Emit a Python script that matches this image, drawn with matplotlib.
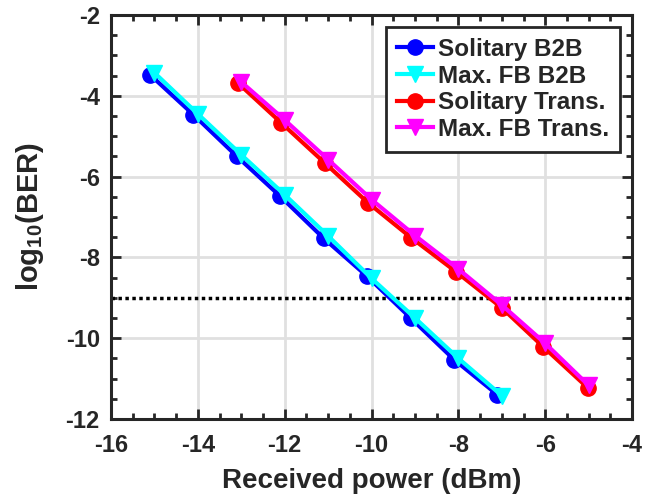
import matplotlib
matplotlib.use('Agg')
import matplotlib.pyplot as plt
from matplotlib.ticker import MultipleLocator

plt.rcParams['font.family'] = ['Liberation Sans', 'DejaVu Sans']
plt.rcParams['font.weight'] = 'bold'
plt.rcParams['axes.unicode_minus'] = False
plt.rcParams['mathtext.fontset'] = 'custom'
plt.rcParams['mathtext.rm'] = 'Liberation Sans:bold'
plt.rcParams['mathtext.bf'] = 'Liberation Sans:bold'
plt.rcParams['mathtext.default'] = 'bf'
plt.rcParams['text.color'] = '#262626'
plt.rcParams['axes.labelcolor'] = '#262626'
plt.rcParams['xtick.color'] = '#262626'
plt.rcParams['ytick.color'] = '#262626'

# ----------------- DATA -----------------
x_b2b_sol = [-15.1, -14.1, -13.1, -12.1, -11.1, -10.1, -9.1, -8.1, -7.1]
y_b2b_sol = [-3.48, -4.47, -5.50, -6.49, -7.53, -8.47, -9.50, -10.53, -11.40]

x_b2b_fb = [-15, -14, -13, -12, -11, -10, -9, -8, -7]
y_b2b_fb = [-3.43, -4.45, -5.46, -6.45, -7.47, -8.52, -9.50, -10.50, -11.42]

x_tr_sol = [-13.08, -12.08, -11.08, -10.08, -9.08, -8.05, -7.0, -6.05, -5.02]
y_tr_sol = [-3.68, -4.67, -5.66, -6.65, -7.52, -8.36, -9.25, -10.21, -11.23]

x_tr_fb = [-13, -12, -11, -10, -9, -8, -7, -6, -5]
y_tr_fb = [-3.66, -4.60, -5.58, -6.57, -7.46, -8.29, -9.18, -10.13, -11.17]

ber_limit = -9

# ----------------- PLOT -----------------
fig = plt.figure(figsize=(6.45, 4.97), dpi=100)
ax = fig.add_axes([0.172, 0.157, 0.808, 0.813])

lw = 3
ms = 11
ax.plot(x_b2b_sol, y_b2b_sol, '-o', color='#0000ff', lw=lw, ms=ms, label='Solitary B2B', zorder=3)
ax.plot(x_b2b_fb, y_b2b_fb, '-v', color='#00ffff', lw=lw, ms=ms + 1, label='Max. FB B2B', zorder=4)
ax.plot(x_tr_sol, y_tr_sol, '-o', color='#ff0000', lw=lw, ms=ms, label='Solitary Trans.', zorder=3)
ax.plot(x_tr_fb, y_tr_fb, '-v', color='#ff00ff', lw=lw, ms=ms + 1, label='Max. FB Trans.', zorder=4)
ax.axhline(ber_limit, color='black', linestyle=(0, (1, 1)), lw=2.5, zorder=2)

ax.set_xlim(-16, -4)
ax.set_ylim(-12, -2)
ax.xaxis.set_major_locator(MultipleLocator(2))
ax.yaxis.set_major_locator(MultipleLocator(2))
ax.xaxis.set_minor_locator(MultipleLocator(0.5))
ax.yaxis.set_minor_locator(MultipleLocator(0.5))
ax.tick_params(which='both', direction='in', top=True, right=True, width=2, color='#262626')
ax.tick_params(which='major', length=7, labelsize=17)
ax.tick_params(which='minor', length=4)
ax.tick_params(axis='x', which='major', pad=11)
ax.tick_params(axis='y', which='major', pad=8)
ax.grid(True, which='major', color='#e0e0e0', lw=2, zorder=0)
ax.set_axisbelow(True)
for sp in ax.spines.values():
    sp.set_linewidth(2.2)
    sp.set_color('#262626')

ax.set_xlabel('Received power (dBm)', fontsize=20, fontweight='bold', labelpad=8)
ax.set_ylabel('log$_{10}$(BER)', fontsize=21, fontweight='bold', labelpad=14)

leg = ax.legend(loc='upper right', fontsize=17.5, frameon=True, fancybox=False,
                handlelength=1.5, handletextpad=0.2, borderpad=0.45, labelspacing=0.15,
                borderaxespad=0.5, markerscale=1.0)
leg.get_frame().set_edgecolor('#262626')
leg.get_frame().set_linewidth(2)
leg.get_frame().set_alpha(1)

fig.savefig('out.png', dpi=100)
